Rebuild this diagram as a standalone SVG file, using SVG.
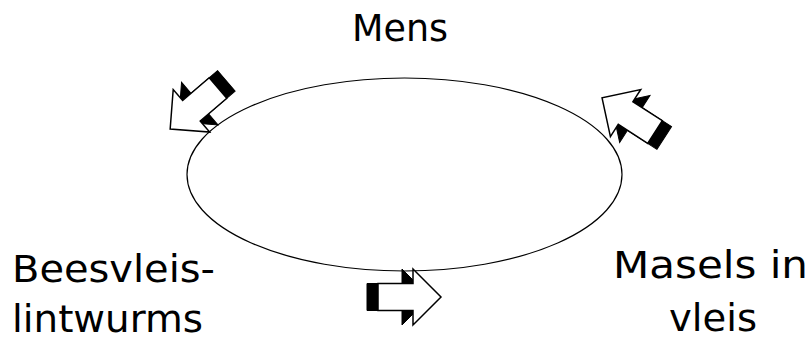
<svg xmlns="http://www.w3.org/2000/svg" xmlns:xlink="http://www.w3.org/1999/xlink" width="808" height="340" viewBox="0 0 808 340">
  <style>
    .lbl { font-family: "DejaVu Sans", "Liberation Sans", sans-serif; font-size: 37px; fill: #000; }
    .blk { fill: #000; stroke: #000; stroke-width: 1; stroke-linejoin: miter; }
    .wht { fill: #fff; stroke: #000; stroke-width: 1.5; stroke-linejoin: miter; }
    .cyc { fill: #fff; stroke: #000; stroke-width: 1.2; }
  </style>
  <defs>
    <g id="arr3d">
      <polygon class="blk" points="-11,-13.5 24,-13.5 24,-28 52,0 24,28 24,13.5 -11,13.5"/>
      <polygon class="wht" points="0,-13.5 35,-13.5 35,-28 63,0 35,28 35,13.5 0,13.5"/>
    </g>
  </defs>
  <rect width="808" height="340" fill="#fff"/>
  <g id="cycle">
    <ellipse class="cyc" cx="404.5" cy="174.5" rx="217.5" ry="96.5"/>
  </g>
  <g id="connectors">
    <use xlink:href="#arr3d" href="#arr3d" transform="translate(218,88) rotate(139.4)"/>
    <use xlink:href="#arr3d" href="#arr3d" transform="translate(655,132) rotate(212.8)"/>
    <use xlink:href="#arr3d" href="#arr3d" transform="translate(378,297)"/>
  </g>
  <g id="mens">
    <text class="lbl" x="352" y="41" textLength="96" lengthAdjust="spacingAndGlyphs">Mens</text>
  </g>
  <g id="beesvleislintwurms">
    <text class="lbl" x="12" y="282" textLength="203" lengthAdjust="spacingAndGlyphs">Beesvleis-</text>
    <text class="lbl" x="12" y="331.5" textLength="191" lengthAdjust="spacingAndGlyphs">lintwurms</text>
  </g>
  <g id="maselsinvleis">
    <text class="lbl" x="613" y="278" textLength="195" lengthAdjust="spacingAndGlyphs">Masels in</text>
    <text class="lbl" x="669" y="331" textLength="88" lengthAdjust="spacingAndGlyphs">vleis</text>
  </g>
</svg>
